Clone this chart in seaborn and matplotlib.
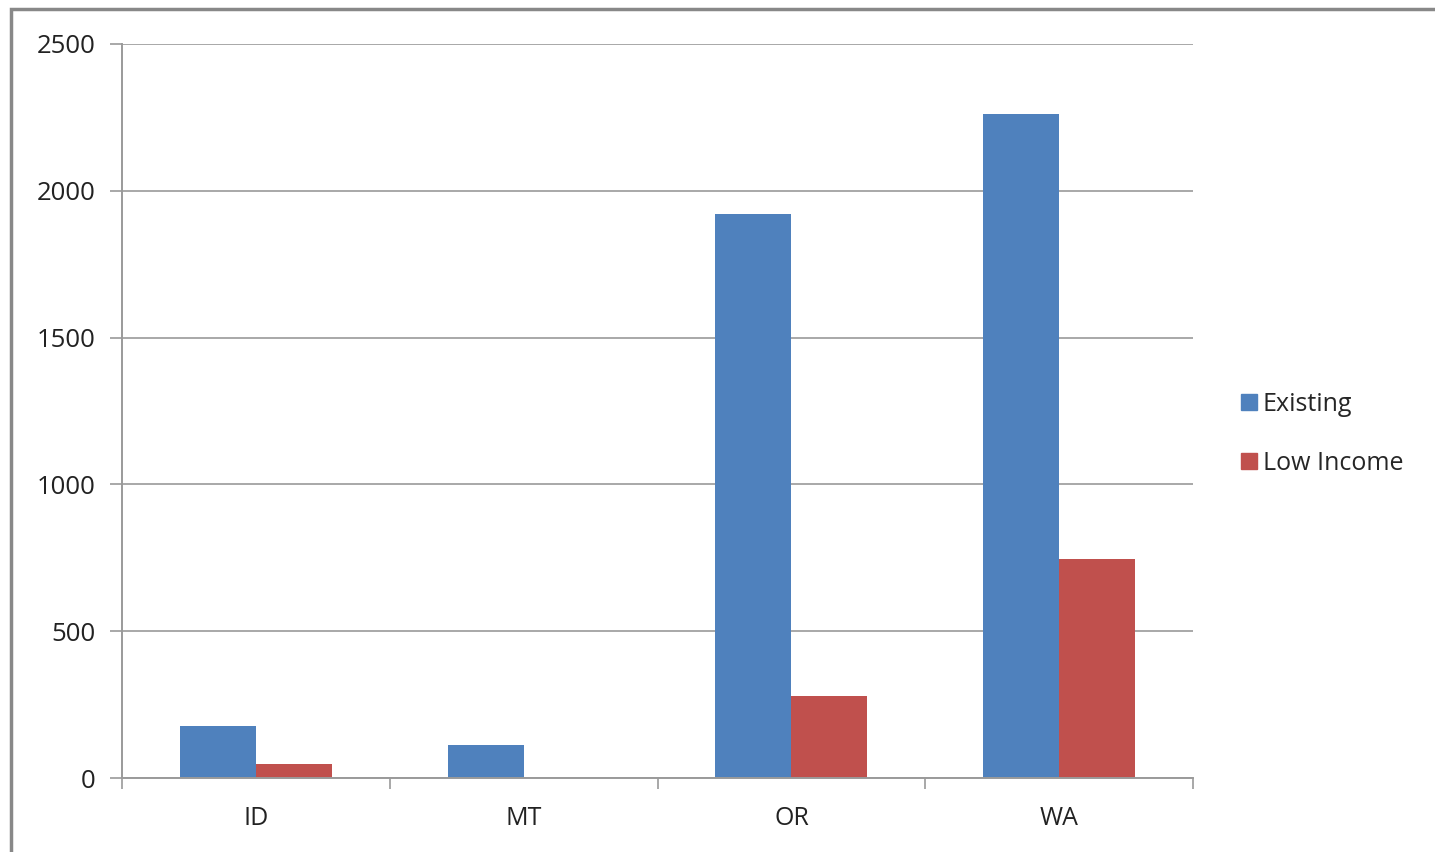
import matplotlib
matplotlib.use("Agg")
import matplotlib.pyplot as plt
import seaborn as sns
import pandas as pd
from matplotlib.patches import Rectangle
from matplotlib.lines import Line2D

states = ["ID", "MT", "OR", "WA"]
existing = [178, 112, 1921, 2262]
low_income = [47, 0, 279, 746]
series_names = ["Existing", "Low Income"]
colors = ["#4F81BD", "#C0504D"]
yticks = [0, 500, 1000, 1500, 2000, 2500]

df = pd.DataFrame({
    "State": states * 2,
    "Value": existing + low_income,
    "Series": [series_names[0]] * len(states) + [series_names[1]] * len(states),
})

sns.set_theme(style="white")
plt.rcParams["font.family"] = ["Open Sans", "DejaVu Sans"]

fig = plt.figure(figsize=(14.35, 8.52), dpi=100)
ax = fig.add_axes([122 / 1435, 1 - 778 / 852, (1193 - 122) / 1435, (778 - 44) / 852])

sns.barplot(data=df, x="State", y="Value", hue="Series", palette=colors,
            width=0.567, saturation=1, ax=ax, legend=False, edgecolor="none")

ax.set_ylim(0, 2500)
ax.set_xlim(-0.5, 3.5)
ax.set_yticks(yticks)
ax.set_yticklabels([str(v) for v in yticks], fontsize=18.5, color="#222222")
ax.set_xlabel("")
ax.set_ylabel("")
ax.tick_params(axis="x", which="major", bottom=True, length=0, pad=20, labelsize=18, labelcolor="#222222")
ax.set_xticks([i - 0.5 for i in range(len(states) + 1)], minor=True)
ax.tick_params(axis="x", which="minor", bottom=True, length=8, color="#9a9a9a", width=1.2, direction="out")
ax.tick_params(axis="y", which="major", left=True, length=9, color="#9a9a9a", width=1.2, direction="out", pad=10)
ax.grid(axis="y", color="#9a9a9a", linewidth=1.2)
ax.set_axisbelow(True)
for s in ["top", "right"]:
    ax.spines[s].set_visible(False)
for s in ["left", "bottom"]:
    ax.spines[s].set_color("#9a9a9a")
    ax.spines[s].set_linewidth(1.4)

handles = [Line2D([0], [0], marker="s", linestyle="none", markersize=12,
                  markerfacecolor=c, markeredgecolor=c) for c in colors]
fig.legend(handles, series_names, loc="center left",
           bbox_to_anchor=(1214 / 1435, 1 - 434 / 852), frameon=False,
           fontsize=18, handletextpad=0.05, labelspacing=1.35, handlelength=1.0)

fig.add_artist(Rectangle((11 / 1435, -0.1), 2, 1 - 9 / 852 + 0.1,
                         transform=fig.transFigure, fill=False,
                         edgecolor="#888888", linewidth=2.5))

fig.savefig("out.png", dpi=100, facecolor="white")
